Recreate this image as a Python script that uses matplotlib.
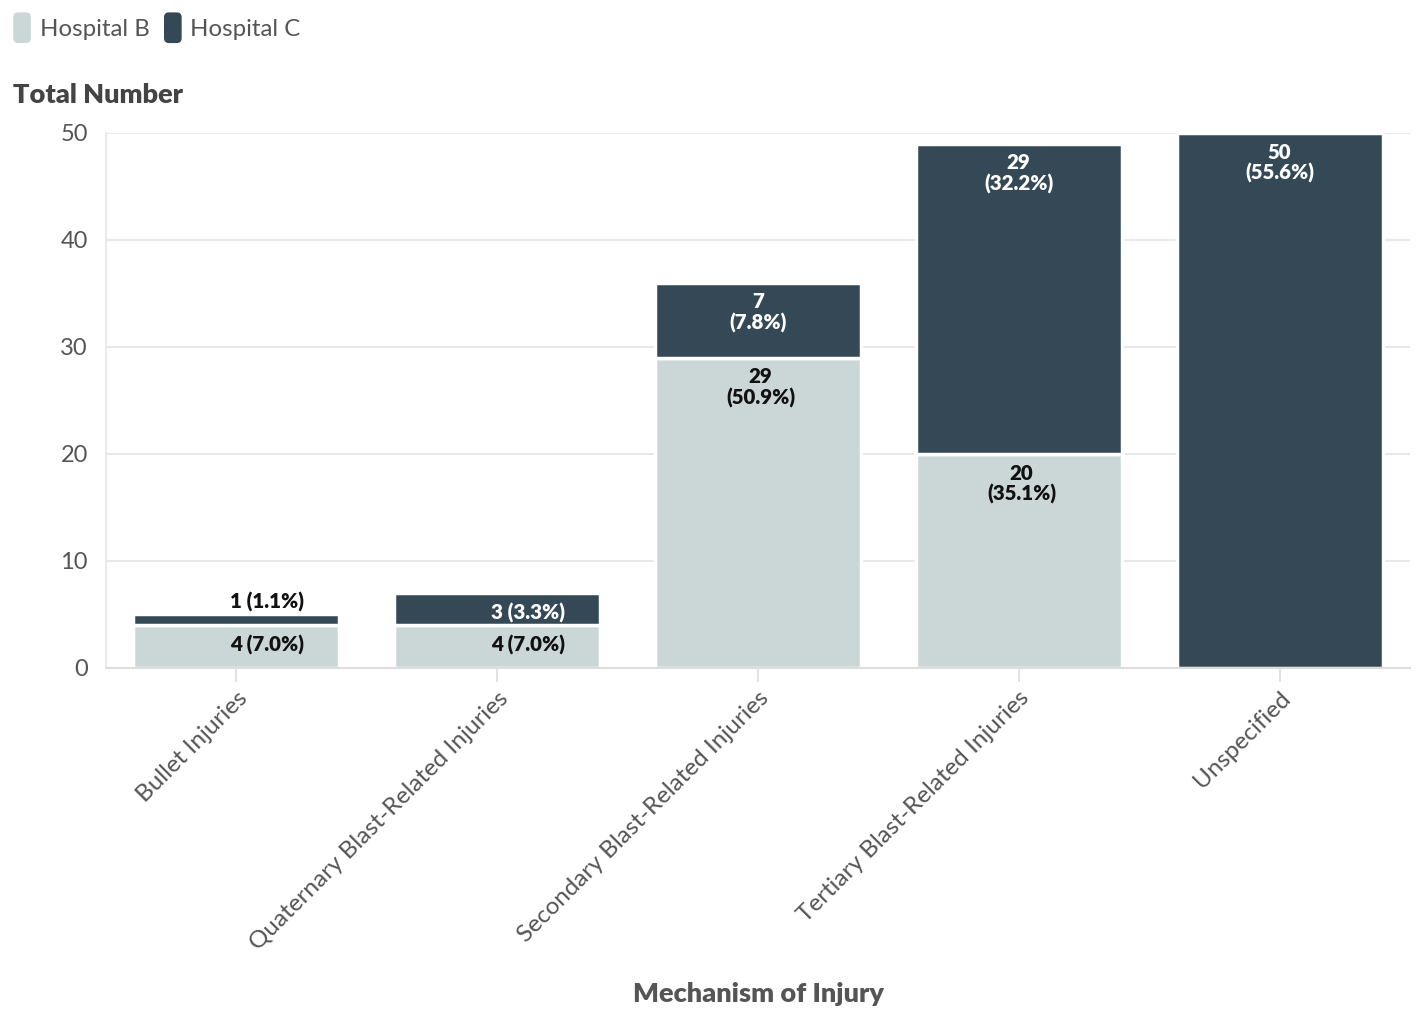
import matplotlib
matplotlib.use('Agg')
import matplotlib.pyplot as plt
import numpy as np
from matplotlib.patches import FancyBboxPatch
from matplotlib.legend_handler import HandlerPatch

plt.rcParams['font.family'] = ['Lato', 'DejaVu Sans']

categories = ['Bullet Injuries', 'Quaternary Blast-Related Injuries',
              'Secondary Blast-Related Injuries', 'Tertiary Blast-Related Injuries',
              'Unspecified']
hosp_b = [4, 4, 29, 20, 0]
hosp_c = [1, 3, 7, 29, 50]
pct_b = [7.0, 7.0, 50.9, 35.1, 0]
pct_c = [1.1, 3.3, 7.8, 32.2, 55.6]

LIGHT = '#cbd7d7'
DARK = '#344955'
GRID = '#e8e8e8'

fig = plt.figure(figsize=(14.17, 10.22), dpi=100)
ax = fig.add_axes([0.0748, 0.3464, 0.9202, 0.5235])

x = np.arange(len(categories))
w = 0.79
ax.bar(x, hosp_b, w, color=LIGHT, edgecolor='white', linewidth=2.5, zorder=2)
ax.bar(x, hosp_c, w, bottom=hosp_b, color=DARK, edgecolor='white', linewidth=2.5, zorder=2)

LBL = 14.8
# labels: two lines inside tall segments, one line for short ones
for i in range(len(categories)):
    b, c = hosp_b[i], hosp_c[i]
    if b > 0:
        if b >= 10:
            txt, dx = f'{b}\n({pct_b[i]:.1f}%)', 2
        else:
            txt, dx = f'{b} ({pct_b[i]:.1f}%)', 22
        ax.annotate(txt, (x[i], b), xytext=(dx, -7), textcoords='offset points',
                    ha='center', va='top', fontsize=LBL, fontweight='heavy',
                    color='#111111', linespacing=1.1, zorder=3)
    if c > 0:
        top = b + c
        if c >= 5:
            txt, dx = f'{c}\n({pct_c[i]:.1f}%)', 0
        else:
            txt, dx = f'{c} ({pct_c[i]:.1f}%)', 22
        if c <= 1:
            ax.annotate(txt, (x[i], top), xytext=(dx, 2), textcoords='offset points',
                        ha='center', va='bottom', fontsize=LBL, fontweight='heavy',
                        color='#111111', zorder=3)
        else:
            ax.annotate(txt, (x[i], top), xytext=(dx, -7), textcoords='offset points',
                        ha='center', va='top', fontsize=LBL, fontweight='heavy',
                        color='white', linespacing=1.1, zorder=3)

ax.set_xlim(-0.5, 4.5)
ax.set_ylim(0, 50)
ax.set_yticks([0, 10, 20, 30, 40, 50])
ax.yaxis.grid(True, color=GRID, linewidth=1.5, zorder=0)
ax.set_axisbelow(True)
for s in ['top', 'right']:
    ax.spines[s].set_visible(False)
ax.spines['left'].set_color(GRID)
ax.spines['left'].set_linewidth(1.2)
ax.spines['bottom'].set_color('#dddddd')
ax.spines['bottom'].set_linewidth(1.5)
ax.tick_params(axis='y', length=0, pad=13, labelsize=17, labelcolor='#555555')
ax.tick_params(axis='x', length=10, width=1.2, color='#dddddd', pad=4,
               labelsize=17.5, labelcolor='#555555')
ax.set_xticks(x)
ax.set_xticklabels(categories, rotation=45, ha='right', rotation_mode='anchor')

fig.text(0.009, 0.907, 'Total Number', fontsize=19.5, fontweight='heavy', color='#444444',
         va='center', ha='left')
fig.text(0.535, 0.027, 'Mechanism of Injury', fontsize=19.5, fontweight='heavy',
         color='#555555', va='center', ha='center')


class RoundHandler(HandlerPatch):
    def create_artists(self, legend, orig_handle, xdescent, ydescent, width, height, fontsize, trans):
        p = FancyBboxPatch((-xdescent + 1, -ydescent - 5), width - 2, height + 10,
                           boxstyle='round,pad=0,rounding_size=3.5',
                           facecolor=orig_handle.get_facecolor(), edgecolor='none',
                           transform=trans)
        return [p]


h1 = plt.Rectangle((0, 0), 1, 1, facecolor=LIGHT)
h2 = plt.Rectangle((0, 0), 1, 1, facecolor=DARK)
leg = fig.legend([h1, h2], ['Hospital B', 'Hospital C'], loc='center left',
                 bbox_to_anchor=(0.005, 0.971), ncol=2, frameon=False, fontsize=17.3,
                 handlelength=0.85, handletextpad=0.3, columnspacing=0.55,
                 borderpad=0.2, borderaxespad=0.0,
                 handler_map={plt.Rectangle: RoundHandler()})
for t in leg.get_texts():
    t.set_color('#555555')

fig.savefig('out.png', dpi=100)
